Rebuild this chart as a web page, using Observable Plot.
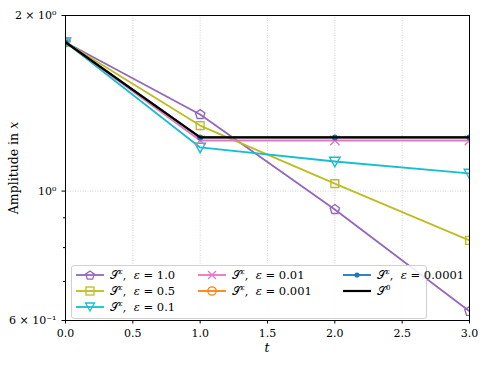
<!DOCTYPE html>
<html>
<head>
<meta charset="utf-8">
<script src="https://cdn.jsdelivr.net/npm/d3@7"></script>
<script src="https://cdn.jsdelivr.net/npm/@observablehq/plot@0.6"></script>
<style>
  html, body { margin: 0; padding: 0; background: #fff; }
  #wrap { position: relative; width: 486px; height: 365px; font-family: "DejaVu Serif", "Liberation Serif", serif; }
  #chart svg, #chart svg text { font-family: "DejaVu Serif", "Liberation Serif", serif !important; }
  #legend { position: absolute; left: 71px; top: 265px; width: 356px; height: 54px; border: 1px solid #d0d0d0; border-radius: 3px; background: rgba(255,255,255,0.85); box-sizing: border-box; }
  .item { position: absolute; display: flex; align-items: center; font-size: 11.5px; color: #000; white-space: nowrap; }
  .item svg { margin-right: 6px; }
</style>
</head>
<body>
<div id="wrap"><div id="chart"></div><div id="legend"></div></div>
<script>
const times = [0, 1, 2, 3];
const seriesNames = ["1.0", "0.5", "0.1", "0.01", "0.001", "0.0001", "S0"];
const seriesColors = ["#9467bd", "#bcbd22", "#17becf", "#e377c2", "#ff7f0e", "#1f77b4", "#000000"];
const seriesSymbols = ["pentagon", "square", "triangle-down", "times", "circle", "dot", "none"];
const eps1_0 = [1.80, 1.353, 0.930, 0.622];
const eps0_5 = [1.80, 1.295, 1.030, 0.823];
const eps0_1 = [1.80, 1.188, 1.124, 1.072];
const eps0_01 = [1.80, 1.221, 1.221, 1.221];
const eps0_001 = [1.80, 1.236, 1.236, 1.236];
const eps0_0001 = [1.80, 1.236, 1.236, 1.236];
const s0 = [1.80, 1.236, 1.236, 1.236];
const seriesValues = [eps1_0, eps0_5, eps0_1, eps0_01, eps0_001, eps0_0001, s0];
const xTicks = [0, 0.5, 1, 1.5, 2, 2.5, 3];
const yMajorTicks = [0.6, 1, 2];
const yTickLabels = ["6 × 10⁻¹", "10⁰", "2 × 10⁰"];
const yMinorTicks = [0.7, 0.8, 0.9];

const FONT = '"DejaVu Serif", "Liberation Serif", serif';
const data = [];
seriesNames.forEach((s, i) => times.forEach((t, j) => data.push({series: s, idx: i, t, v: seriesValues[i][j]})));

const marks = [
  Plot.ruleX(xTicks.slice(1), {stroke: "#c8c8c8", strokeWidth: 0.8, strokeDasharray: "1,1.5"}),
  Plot.ruleY([1], {stroke: "#c8c8c8", strokeWidth: 0.8, strokeDasharray: "1,1.5"}),
];
seriesNames.forEach((s, i) => {
  const d = data.filter(r => r.idx === i);
  marks.push(Plot.line(d, {x: "t", y: "v", stroke: seriesColors[i], strokeWidth: i === 6 ? 2.2 : 1.8, clip: true}));
  const sym = seriesSymbols[i];
  if (sym === "dot") {
    marks.push(Plot.dot(d, {x: "t", y: "v", fill: seriesColors[i], r: 3, clip: true}));
  } else if (sym !== "none" && sym !== "circle") {
    marks.push(Plot.dot(d, {x: "t", y: "v", stroke: seriesColors[i], fill: "none", strokeWidth: 1.4, r: 4.4,
      symbol: sym === "pentagon" ? {draw(ctx, size){ const r = Math.sqrt(size/ (2.5)); for (let k=0;k<5;k++){const a=-Math.PI/2+k*2*Math.PI/5; const x=r*Math.cos(a), y=r*Math.sin(a); k?ctx.lineTo(x,y):ctx.moveTo(x,y);} ctx.closePath(); }} :
              sym === "triangle-down" ? {draw(ctx, size){ const r = Math.sqrt(size/2.2); ctx.moveTo(-r,-r*0.8); ctx.lineTo(r,-r*0.8); ctx.lineTo(0,r); ctx.closePath(); }} :
              sym, clip: true}));
  }
});
marks.push(Plot.frame({stroke: "#000", strokeWidth: 1}));
marks.push(Plot.axisX({ticks: xTicks, tickFormat: d3.format(".1f"), tickSize: 3.5, fontSize: 11, fontFamily: FONT, label: null}));
marks.push(Plot.axisY({ticks: yMajorTicks, tickFormat: (d) => yTickLabels[yMajorTicks.indexOf(d)], tickSize: 3.5, fontSize: 11, fontFamily: FONT, label: null}));
marks.push(Plot.axisY({ticks: yMinorTicks, tickFormat: () => "", tickSize: 2, label: null}));

const chart = Plot.plot({
  width: 486, height: 365,
  marginLeft: 65, marginRight: 17, marginTop: 15, marginBottom: 45,
  style: {fontFamily: FONT, fontSize: "11px", color: "#000", background: "#fff"},
  x: {domain: [0, 3]},
  y: {type: "log", domain: [0.6, 2]},
  marks
});
document.getElementById("chart").appendChild(chart);

// axis labels
const svg = d3.select(chart);
svg.append("text").attr("x", 267).attr("y", 352).attr("text-anchor", "middle").attr("font-style", "italic").attr("font-size", 12.5).text("t");
const yl = svg.append("text").attr("transform", "translate(18,168) rotate(-90)").attr("text-anchor", "middle").attr("font-size", 12.5);
yl.append("tspan").text("Amplitude in ");
yl.append("tspan").attr("font-style", "italic").text("x");

// legend
const legend = document.getElementById("legend");
const labels = ["1.0", "0.5", "0.1", "0.01", "0.001", "0.0001"];
const pos = [[0,0],[0,1],[0,2],[1,0],[1,1],[2,0],[2,1]];
const colX = [4, 126, 271];
function swatch(i) {
  const c = seriesColors[i], sym = seriesSymbols[i];
  let m = "";
  if (sym === "pentagon") { const pts=[]; for(let k=0;k<5;k++){const a=-Math.PI/2+k*2*Math.PI/5; pts.push((14+4.5*Math.cos(a)).toFixed(1)+","+(6.5+4.5*Math.sin(a)).toFixed(1));} m = `<polygon points="${pts.join(" ")}" fill="none" stroke="${c}" stroke-width="1.3"/>`; }
  if (sym === "square") m = `<rect x="10" y="2" width="8" height="8" fill="none" stroke="${c}" stroke-width="1.3"/>`;
  if (sym === "triangle-down") m = `<polygon points="9.5,2 18.5,2 14,10" fill="none" stroke="${c}" stroke-width="1.3"/>`;
  if (sym === "times") m = `<path d="M10,2L18,10M18,2L10,10" stroke="${c}" stroke-width="1.3"/>`;
  if (sym === "circle") m = `<circle cx="14" cy="6" r="4.2" fill="none" stroke="${c}" stroke-width="1.3"/>`;
  if (sym === "dot") m = `<circle cx="14" cy="6" r="2.6" fill="${c}"/>`;
  return `<svg width="28" height="12"><line x1="0" y1="6" x2="28" y2="6" stroke="${c}" stroke-width="${i===6?2.2:1.8}"/>${m}</svg>`;
}
seriesNames.forEach((s, i) => {
  const el = document.createElement("div");
  el.className = "item";
  el.style.left = colX[pos[i][0]] + "px";
  el.style.top = (2 + pos[i][1] * 16) + "px";
  const text = i === 6 ? '<span>𝒮<sup style="font-size:7px">0</sup></span>'
    : `<span>𝒮<sup style="font-size:7px"><i>ε</i></sup>, &nbsp;<i>ε</i> = ${labels[i]}</span>`;
  el.innerHTML = swatch(i) + text;
  legend.appendChild(el);
});
</script>
</body>
</html>
